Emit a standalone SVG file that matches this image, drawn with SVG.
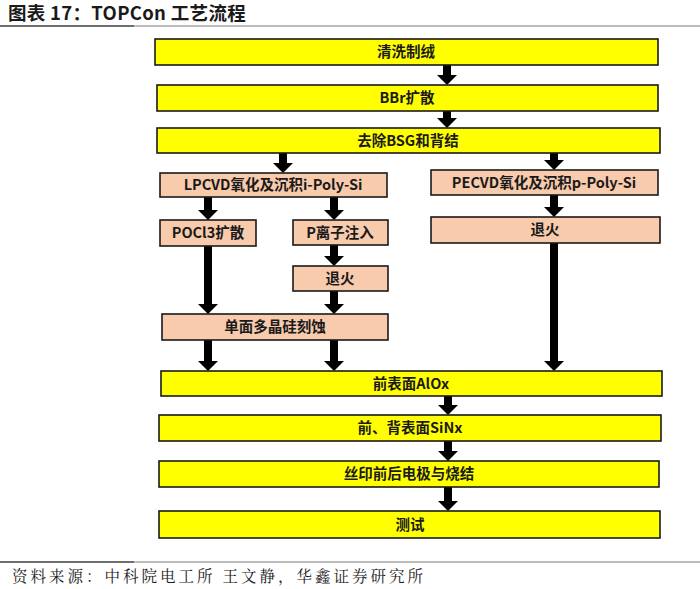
<svg xmlns="http://www.w3.org/2000/svg" width="700" height="589" viewBox="0 0 700 589">
<style>
.y{fill:#FFFF00;stroke:#1a1a1a;stroke-width:1.6}
.p{fill:#F8CBAD;stroke:#1a1a1a;stroke-width:1.6}
.t{font-family:"Noto Sans CJK SC","Noto Sans",sans-serif;font-size:14.5px;font-weight:bold;fill:#1a1a1a;text-anchor:middle}
.c{stroke:#000;stroke-width:8;fill:none}
</style>
<defs>
<marker id="a" markerUnits="userSpaceOnUse" viewBox="0 0 10 20" refX="0" refY="10" markerWidth="10" markerHeight="20" orient="auto">
<path d="M0,0 L10,10 L0,20 Z" fill="#000"/>
</marker>
</defs>
<rect width="700" height="589" fill="#fff"/>
<text x="8" y="20" font-family="Noto Sans CJK SC,sans-serif" font-size="18.5" letter-spacing="0.3" font-weight="bold" fill="#1a1a1a">图表 17：TOPCon 工艺流程</text>
<line x1="0" y1="26" x2="700" y2="26" stroke="#777" stroke-width="1"/>
<line x1="0" y1="26" x2="134" y2="26" stroke="#555" stroke-width="1.5"/>
<g id="connectors">
<line class="c" x1="447" y1="65" x2="447" y2="75" marker-end="url(#a)"/>
<line class="c" x1="447" y1="111" x2="447" y2="118" marker-end="url(#a)"/>
<line class="c" x1="283" y1="153" x2="283" y2="163" marker-end="url(#a)"/>
<line class="c" x1="554" y1="153" x2="554" y2="160" marker-end="url(#a)"/>
<line class="c" x1="208" y1="197" x2="208" y2="210" marker-end="url(#a)"/>
<line class="c" x1="334" y1="197" x2="334" y2="210" marker-end="url(#a)"/>
<line class="c" x1="334" y1="245" x2="334" y2="256" marker-end="url(#a)"/>
<line class="c" x1="208" y1="246" x2="208" y2="304" marker-end="url(#a)"/>
<line class="c" x1="334" y1="291" x2="334" y2="304" marker-end="url(#a)"/>
<line class="c" x1="554" y1="195" x2="554" y2="207" marker-end="url(#a)"/>
<line class="c" x1="208" y1="340" x2="208" y2="361" marker-end="url(#a)"/>
<line class="c" x1="334" y1="340" x2="334" y2="361" marker-end="url(#a)"/>
<line class="c" x1="554" y1="243" x2="554" y2="361" marker-end="url(#a)"/>
<line class="c" x1="448" y1="396" x2="448" y2="405" marker-end="url(#a)"/>
<line class="c" x1="448" y1="441" x2="448" y2="451" marker-end="url(#a)"/>
<line class="c" x1="448" y1="487" x2="448" y2="501" marker-end="url(#a)"/>
</g>
<g id="n1"><rect class="y" x="155" y="39" width="503" height="26"/><text class="t" x="406" y="57">清洗制绒</text></g>
<g id="n2"><rect class="y" x="157" y="85" width="501" height="26"/><text class="t" x="407" y="103">BBr扩散</text></g>
<g id="n3"><rect class="y" x="157" y="128" width="503" height="25"/><text class="t" x="408" y="146">去除BSG和背结</text></g>
<g id="n4"><rect class="p" x="160" y="173" width="227" height="24"/><text class="t" x="273" y="190">LPCVD氧化及沉积i-Poly-Si</text></g>
<g id="n5"><rect class="p" x="431" y="170" width="227" height="25"/><text class="t" x="544" y="188">PECVD氧化及沉积p-Poly-Si</text></g>
<g id="n6"><rect class="p" x="160" y="220" width="96" height="26"/><text class="t" x="208" y="238">POCl3扩散</text></g>
<g id="n7"><rect class="p" x="293" y="220" width="95" height="25"/><text class="t" x="340" y="238">P离子注入</text></g>
<g id="n8"><rect class="p" x="293" y="266" width="95" height="25"/><text class="t" x="340" y="284">退火</text></g>
<g id="n9"><rect class="p" x="431" y="217" width="229" height="26"/><text class="t" x="545" y="235">退火</text></g>
<g id="n10"><rect class="p" x="162" y="314" width="226" height="26"/><text class="t" x="275" y="332">单面多晶硅刻蚀</text></g>
<g id="n11"><rect class="y" x="161" y="371" width="501" height="25"/><text class="t" x="411" y="389">前表面AlOx</text></g>
<g id="n12"><rect class="y" x="159" y="415" width="502" height="26"/><text class="t" x="410" y="433">前、背表面SiNx</text></g>
<g id="n13"><rect class="y" x="159" y="461" width="500" height="26"/><text class="t" x="409" y="479">丝印前后电极与烧结</text></g>
<g id="n14"><rect class="y" x="159" y="511" width="501" height="27"/><text class="t" x="410" y="530">测试</text></g>
<line x1="0" y1="562" x2="700" y2="562" stroke="#777" stroke-width="1"/>
<line x1="0" y1="562" x2="134" y2="562" stroke="#555" stroke-width="1.5"/>
<text x="12" y="582" font-family="Noto Serif CJK SC,Noto Sans CJK SC,serif" font-size="15.5" letter-spacing="3" fill="#1a1a1a">资料来源：中科院电工所 王文静，华鑫证券研究所</text>
</svg>
